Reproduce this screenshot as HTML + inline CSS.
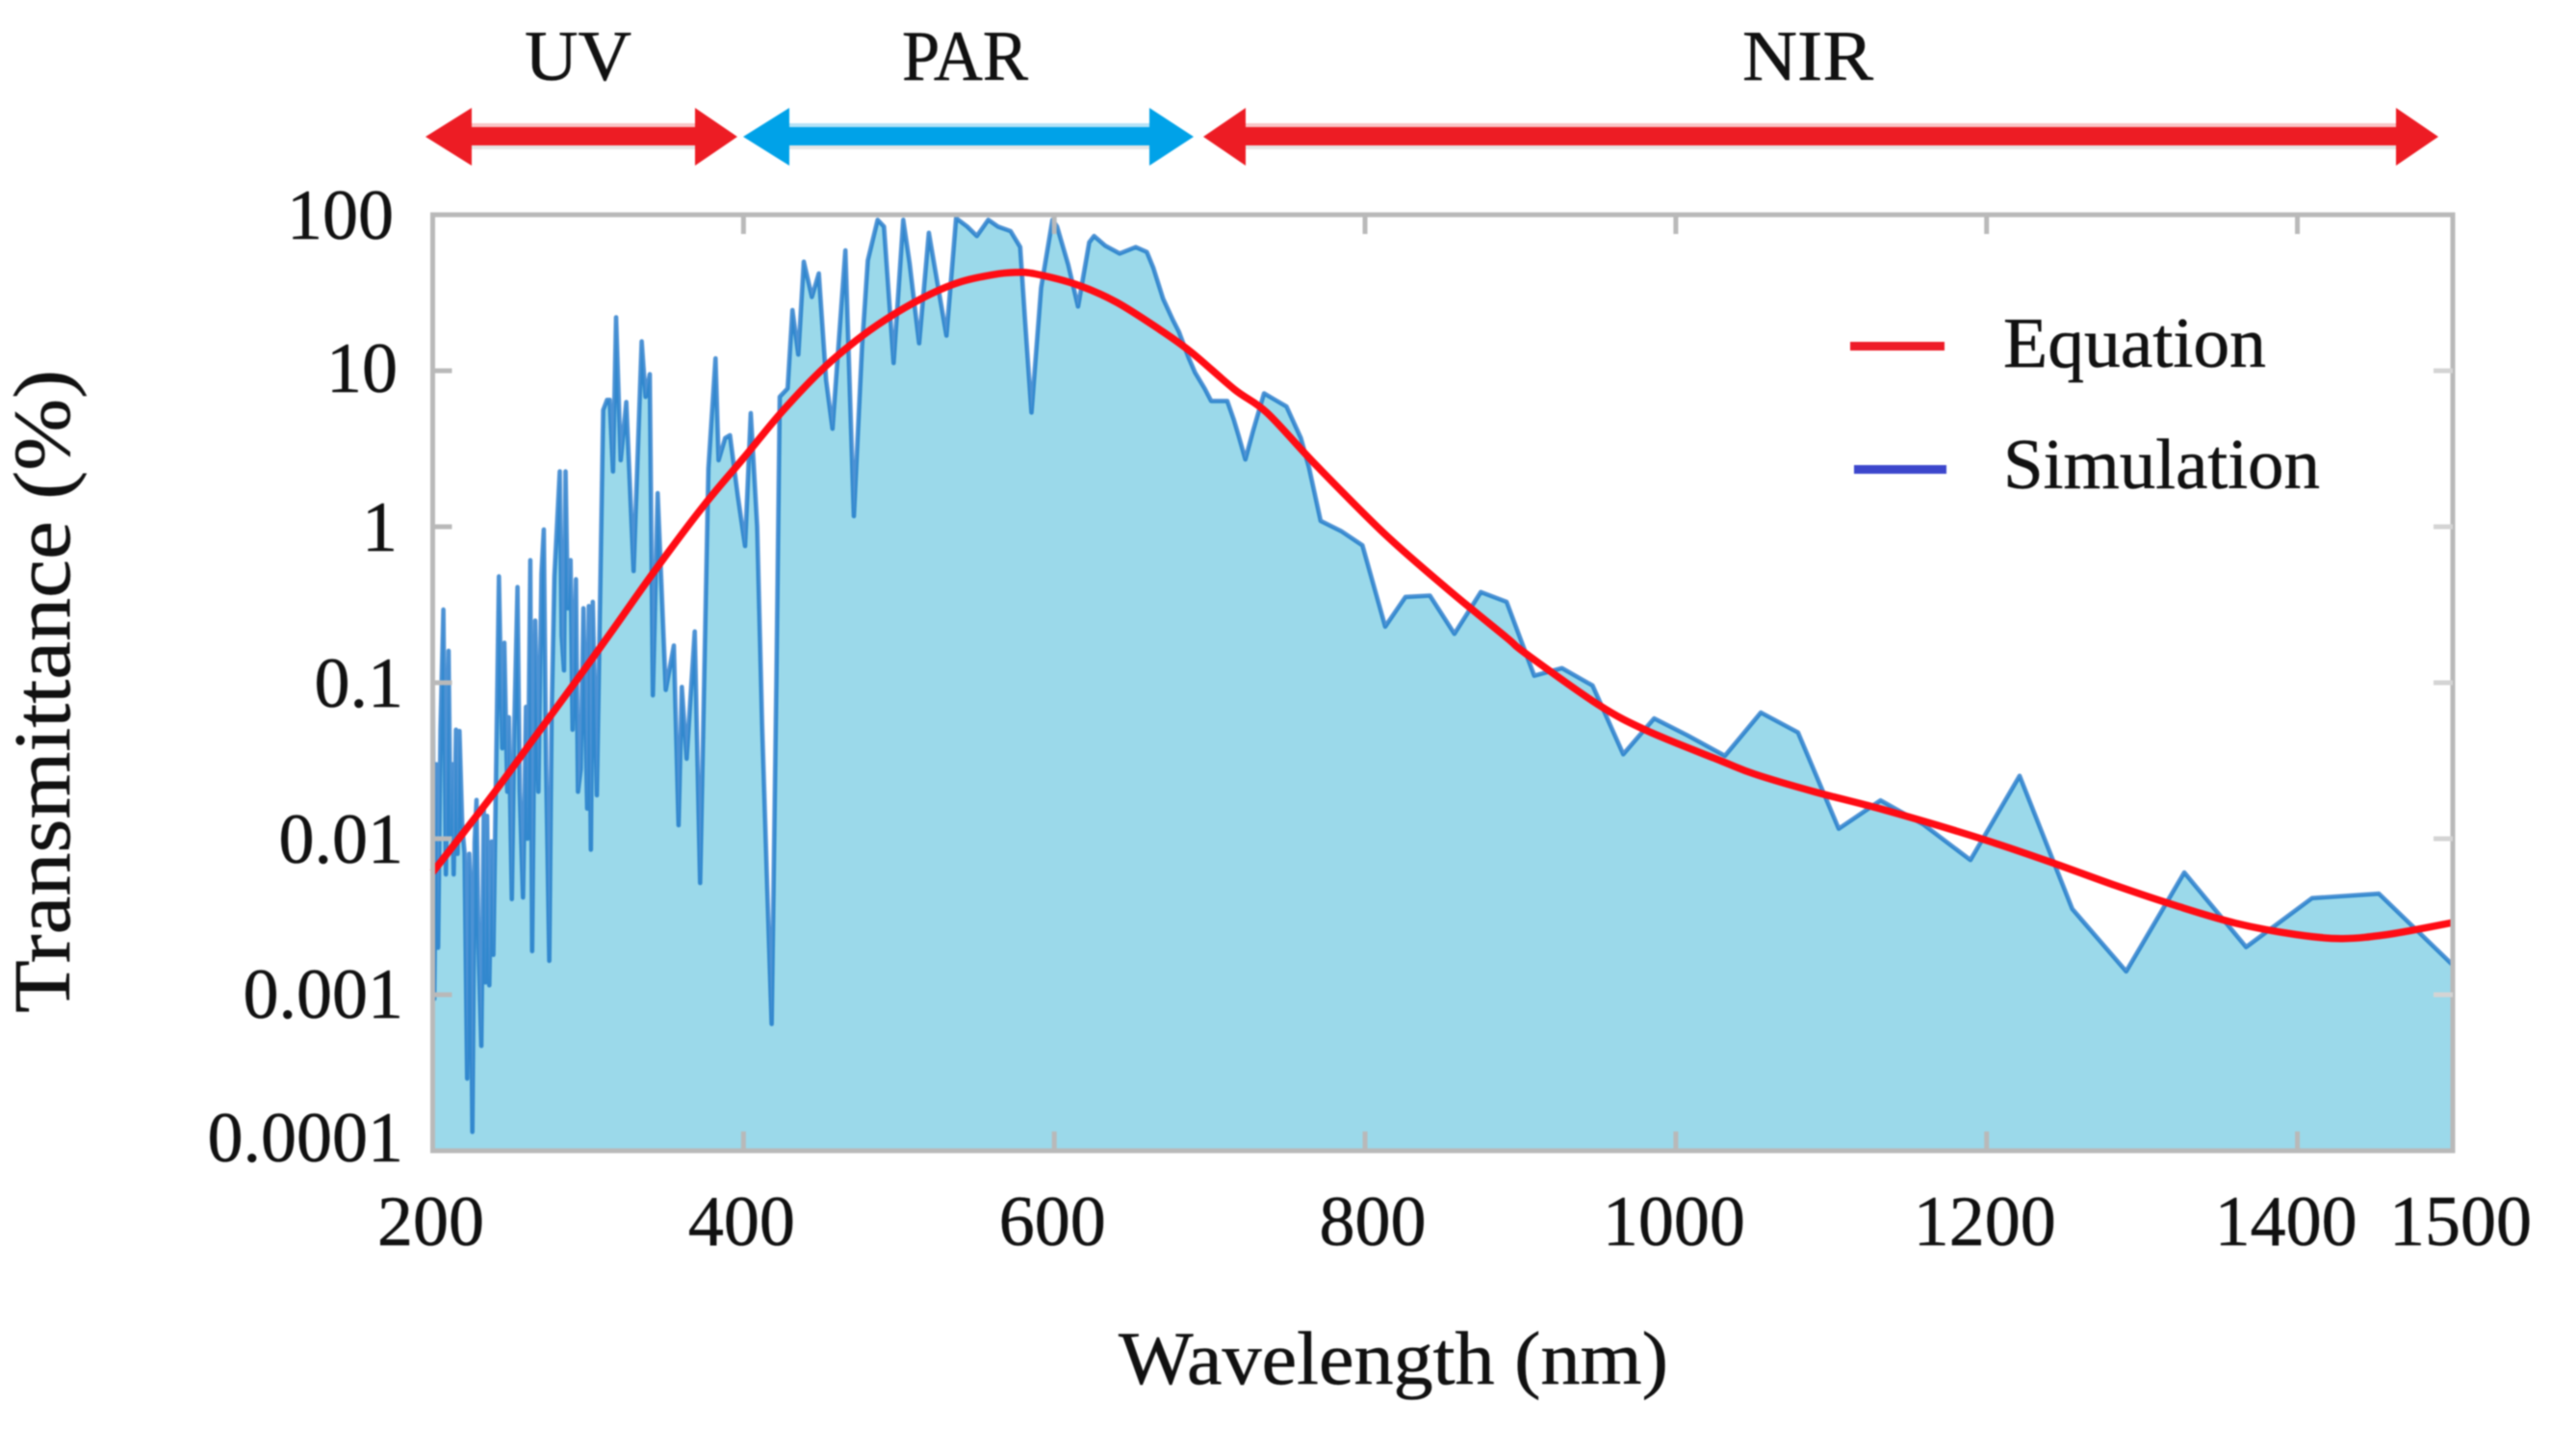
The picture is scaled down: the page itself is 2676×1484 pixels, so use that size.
<!DOCTYPE html>
<html lang="en">
<head>
<meta charset="utf-8">
<title>Transmittance vs Wavelength</title>
<style>
html,body{margin:0;padding:0;background:#fff;width:2676px;height:1484px;overflow:hidden}
#chart{display:block;filter:blur(0.7px)}
text{font-family:"Liberation Serif",serif;fill:#111;stroke:#111;stroke-width:0.5px}
</style>
</head>
<body>
<svg id="chart" xmlns="http://www.w3.org/2000/svg" width="2676" height="1484" viewBox="0 0 2676 1484">
  <rect x="0" y="0" width="2676" height="1484" fill="#ffffff"/>
  <g id="series"></g>
  <g id="axes"></g>

  <g>
    <text x="545" y="83" font-size="74" textLength="111" lengthAdjust="spacingAndGlyphs">UV</text>
    <path d="M490 128H722V134H490Z" fill="#f9c4c6"/>
    <path d="M490 149H722V155H490Z" fill="#e6e6e6"/>
    <path d="M442 142L490 112V132H722V112L766 142L722 172V151H490V172Z" fill="#ed1c24"/>
  </g>
  <g>
    <text x="937" y="83" font-size="74" textLength="131" lengthAdjust="spacingAndGlyphs">PAR</text>
    <path d="M820 128H1194V134H820Z" fill="#b4e2f7"/>
    <path d="M820 149H1194V155H820Z" fill="#e6e6e6"/>
    <path d="M772 142L820 112V132H1194V112L1240 142L1194 172V151H820V172Z" fill="#00a2e8"/>
  </g>
  <g>
    <text x="1810" y="83" font-size="74" textLength="136" lengthAdjust="spacingAndGlyphs">NIR</text>
    <path d="M1294 128H2489V134H1294Z" fill="#f9c4c6"/>
    <path d="M1294 149H2489V155H1294Z" fill="#e6e6e6"/>
    <path d="M1250 142L1294 112V132H2489V112L2533 142L2489 172V151H1294V172Z" fill="#ed1c24"/>
  </g>

  <g>
    <rect x="1922" y="355" width="98" height="9" fill="#ee1c28"/>
    <text x="2081" y="381" font-size="74" textLength="273" lengthAdjust="spacingAndGlyphs">Equation</text>
    <rect x="1926" y="483" width="96" height="9" fill="#3c46cc"/>
    <text x="2081" y="507" font-size="74" textLength="329" lengthAdjust="spacingAndGlyphs">Simulation</text>
  </g>

  <text x="1162" y="1437" font-size="78" textLength="571" lengthAdjust="spacingAndGlyphs">Wavelength (nm)</text>
  <text transform="translate(72,1052) rotate(-90)" x="0" y="0" font-size="84" textLength="668" lengthAdjust="spacingAndGlyphs">Transmittance (%)</text>
</svg>

<script>
// Simulation series (wavelength in nm, transmittance in %)
const simWavelengths = [200,201,202.5,203.5,205,206.9,208.5,210.2,211.5,212.5,213.5,215,216,217.2,219,220.5,222.2,223.5,224.2,225.5,227,228.2,229.5,231.3,232.9,234,235,236.4,237.9,239,242.6,244.7,246.1,248,249,250.9,252.5,254.6,256,258.1,260,261,262.8,264,266,268,270,271.5,273,275,276.5,278.3,281.8,283,284.5,285.5,287,288.7,290,292.2,293.5,295.3,297,299.4,300.5,301.8,303,305.6,309.7,312.2,313.9,316,318,321,324.6,329.3,334.5,337,339.7,341.7,344.8,350,355.2,358.2,360.3,363.4,368.6,372.1,377.4,382,384,388.2,391.3,396.4,401,404.7,408.8,412,415,418.1,421.2,423.3,428.4,431.5,435.3,438.8,444,448.5,453.2,457.3,465.6,471,476.3,480,486.3,490.4,496.6,502.8,506.9,513,519.3,530.6,536.8,544,550.2,557.5,563.7,571.9,578.1,581.2,585.3,591.5,598.8,601.8,609,615.3,622.5,625.6,632.8,642.1,652.4,659.6,663.8,670,676.2,680.3,686.5,690.6,696.8,701,711.3,715.4,718.5,723,727.8,735,742.2,749.4,758.7,763.9,771.4,784.5,798.3,813,826,841.7,857.5,874.5,891.1,908.9,926.7,946.4,966.2,986,1007.3,1031.6,1054.7,1078.6,1104.8,1131.8,1159.5,1189.6,1221.2,1255.1,1289.8,1327.2,1367,1409.4,1452.5,1500];
const simTransmittance = [0.196,0.00094,0.03,0.002,0.05,0.294,0.0059,0.16,0.01,0.03,0.0059,0.05,0.008,0.049,0.012,0.0081,0.00029,0.008,0.0054,0.000132,0.0095,0.0177,0.002,0.00047,0.0156,0.0012,0.014,0.00115,0.0096,0.0018,0.48,0.038,0.18,0.02,0.06,0.0041,0.05,0.41,0.02,0.0042,0.07,0.01,0.61,0.0019,0.25,0.02,0.5,0.96,0.03,0.00165,0.06,0.48,2.26,0.2,0.12,2.26,0.3,0.61,0.05,0.46,0.02,0.028,0.3,0.0156,0.31,0.0085,0.33,0.019,5.6,6.5,6.5,2.26,22,2.67,6.3,0.52,15.4,6.8,9.5,0.083,1.64,0.09,0.173,0.0122,0.094,0.0326,0.213,0.0052,2.36,12,2.67,3.7,3.86,1.57,0.753,5.34,1.0,0.054,0.0059,0.00065,0.111,6.8,7.7,24.5,12.7,50,29.7,42,8.7,4.25,59,1.17,14.3,51,92.7,84,11.2,92.7,49,15,76.5,16.8,95,84,73,92.7,84,78.5,62,21.3,5.4,34,92.7,84,47.8,25.8,66.5,73,63.4,56.4,62,57.7,45.5,29,21.3,17.7,12.1,9.75,7.7,6.4,6.4,4.9,3.87,2.7,4.07,7.16,6.5,5.9,3.7,2.4,1.09,0.94,0.76,0.229,0.355,0.362,0.206,0.381,0.33,0.111,0.124,0.096,0.0348,0.059,0.0461,0.034,0.0644,0.048,0.0116,0.0176,0.0123,0.0073,0.0253,0.00355,0.00141,0.00607,0.00202,0.00416,0.00444,0.00155];

// Equation series (wavelength in nm, transmittance in %)
const eqWavelengths = [200,220,240,265,291,316,343,374,400,425,452,476,498,520,540,560,575,588,615,640,667,688,716,737,768,812,852,891,903,950,982,1029,1051,1090,1129,1167,1206,1244,1283,1322,1360,1399,1429,1460,1500];
const eqTransmittance = [0.0061,0.011,0.02,0.0437,0.0986,0.219,0.524,1.35,2.75,5.5,10.5,16.6,23.4,30.9,37.2,41.2,42.7,41.7,35.5,27.5,18.6,13.2,7.59,5.37,2.51,0.912,0.407,0.195,0.155,0.0724,0.049,0.0316,0.0259,0.0199,0.0158,0.0123,0.00933,0.00692,0.00501,0.00372,0.00288,0.00243,0.00229,0.00245,0.0029];

// Axis ticks
const xTicks = [200,400,600,800,1000,1200,1400,1500];
const xTickLabels = ["200","400","600","800","1000","1200","1400","1500"];
const yTicks = [100,10,1,0.1,0.01,0.001,0.0001];
const yTickLabels = ["100","10","1","0.1","0.01","0.001","0.0001"];

const NS = "http://www.w3.org/2000/svg";
const plot = {left:449.5, right:2548, top:223, bottom:1195};
const xMin = 200, xMax = 1500, yMaxLog = 2, yMinLog = -4;

function xScale(nm){
  return plot.left + (nm - xMin) / (xMax - xMin) * (plot.right - plot.left);
}
function yScale(t){
  return plot.top + (yMaxLog - Math.log10(t)) / (yMaxLog - yMinLog) * (plot.bottom - plot.top);
}
function make(tag, attrs, parent){
  const el = document.createElementNS(NS, tag);
  for (const k in attrs) el.setAttribute(k, attrs[k]);
  parent.appendChild(el);
  return el;
}

const seriesG = document.getElementById("series");
const axesG = document.getElementById("axes");

// Simulation area and line
const simPts = simWavelengths.map((w, i) => [xScale(w), yScale(simTransmittance[i])]);
const simLineD = simPts.map((p, i) => (i ? "L" : "M") + p[0].toFixed(1) + " " + p[1].toFixed(1)).join("");
const simAreaD = "M" + xScale(simWavelengths[0]).toFixed(1) + " " + plot.bottom + simLineD.replace("M", "L") + "L" + xScale(simWavelengths[simWavelengths.length - 1]).toFixed(1) + " " + plot.bottom + "Z";

const simArea = make("path", {d: simAreaD, fill: "#9bd9ea"}, seriesG);



const simLine = make("path", {d: simLineD, fill: "none", stroke: "#0868c4", "stroke-opacity": "0.72", "stroke-width": "4.6", "stroke-linejoin": "round"}, seriesG);



// Equation curve (Catmull-Rom smoothing through the read values)
const eqPts = eqWavelengths.map((w, i) => [xScale(w), yScale(eqTransmittance[i])]);
let eqD = "M" + eqPts[0][0].toFixed(1) + " " + eqPts[0][1].toFixed(1);
for (let i = 0; i < eqPts.length - 1; i++){
  const p0 = eqPts[Math.max(0, i - 1)], p1 = eqPts[i], p2 = eqPts[i + 1], p3 = eqPts[Math.min(eqPts.length - 1, i + 2)];
  const c1x = p1[0] + (p2[0] - p0[0]) / 6, c1y = p1[1] + (p2[1] - p0[1]) / 6;
  const c2x = p2[0] - (p3[0] - p1[0]) / 6, c2y = p2[1] - (p3[1] - p1[1]) / 6;
  eqD += "C" + [c1x, c1y, c2x, c2y, p2[0], p2[1]].map(v => v.toFixed(1)).join(" ");
}
const eqLine = make("path", {d: eqD, fill: "none", stroke: "#ff0c14", "stroke-width": "7.5", "stroke-linejoin": "round"}, seriesG);



// Frame
const axisColor = "#b9b9b9";
const frame = make("rect", {x: plot.left, y: plot.top, width: plot.right - plot.left, height: plot.bottom - plot.top, fill: "none", stroke: axisColor, "stroke-width": "5"}, axesG);



// X ticks and labels
xTicks.forEach((t, i) => {
  const x = xScale(t);
  if (t !== 200 && t !== 1500){
    const bt = make("line", {x1: x, x2: x, y1: plot.bottom, y2: plot.bottom - 20, stroke: axisColor, "stroke-width": "5"}, axesG);
    
    
    const tt = make("line", {x1: x, x2: x, y1: plot.top, y2: plot.top + 20, stroke: axisColor, "stroke-width": "5"}, axesG);
    
    
  }
  const shift = t === 1400 ? -12 : t === 1500 ? 8 : t === 800 ? 8 : -2;
  const lb = make("text", {x: x + shift, y: 1293, "font-size": "74", "text-anchor": "middle"}, axesG);
  lb.textContent = xTickLabels[i];
  
  
});

// Y ticks and labels
yTicks.forEach((t, i) => {
  const y = yScale(t);
  if (t !== 100 && t !== 0.0001){
    const lt = make("line", {x1: plot.left, x2: plot.left + 20, y1: y, y2: y, stroke: axisColor, "stroke-width": "5"}, axesG);
    
    
    const rt = make("line", {x1: plot.right, x2: plot.right - 20, y1: y, y2: y, stroke: "#d4d4d4", "stroke-width": "5"}, axesG);
    
    
  }
  const right = t >= 100 ? 409 : t >= 1 ? 413 : 419;
  const base = y + (t === 0.0001 ? 11 : t === 0.001 ? 24 : t === 10 ? 22 : 25);
  const lb = make("text", {x: right, y: base, "font-size": "74", "text-anchor": "end"}, axesG);
  lb.textContent = yTickLabels[i];
  
  
});
</script>
</body>
</html>
